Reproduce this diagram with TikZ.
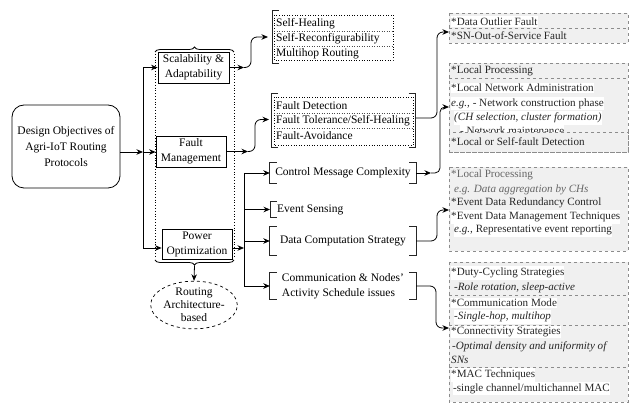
\documentclass[tikz,border=0pt]{standalone}
\usepackage{fontspec}
\setmainfont{Liberation Serif}
\usetikzlibrary{arrows.meta,decorations.pathreplacing,shapes.geometric,calc}
\definecolor{boxfill}{HTML}{F0F0F0}
\definecolor{boxline}{HTML}{8C8C8C}
\definecolor{rtext}{HTML}{262626}
\newcommand\LBrk[1]{\draw[brk] ([xshift=7pt]#1.north west) -- (#1.north west) -- (#1.south west) -- ([xshift=7pt]#1.south west);}
\newcommand\RBrk[1]{\draw[brk] ([xshift=-7pt]#1.north east) -- (#1.north east) -- (#1.south east) -- ([xshift=-7pt]#1.south east);}
\begin{document}
\begin{tikzpicture}[x=1pt,y=-1pt,
  line/.style={line width=0.8pt,black},
  conn/.style={line,-{Stealth[length=6.5pt,width=5.5pt]}},
  plainbox/.style={draw,line width=0.8pt,align=center,font=\fontsize{11.5}{15}\selectfont,inner sep=0pt},
  brk/.style={line width=0.9pt,black!85},
  dotbox/.style={draw,dotted,line width=0.6pt},
  dotsep/.style={dotted,line width=0.5pt,black!70},
  mid/.style={inner sep=0pt,font=\fontsize{11.5}{15}\selectfont},
  rbox/.style={draw=boxline,dashed,line width=0.5pt,fill=boxfill},
  rsep/.style={draw=boxline,dashed,line width=0.5pt},
  rt/.style={anchor=west,inner sep=0pt,font=\fontsize{11.1}{13}\selectfont,text=rtext},
  rtw/.style={rt,fill=white,inner ysep=1.5pt},
  lt/.style={anchor=west,inner sep=0pt,font=\fontsize{11.5}{14}\selectfont},
]
\useasboundingbox (0,0) rectangle (633,403);

% left column
\node[plainbox,rounded corners=12pt,minimum width=108,minimum height=83,font=\fontsize{11.5}{16}\selectfont] (main) at (66,146.5) {Design Objectives of\\Agri-IoT Routing\\Protocols};
\node[plainbox,minimum width=71,minimum height=31] (scal) at (193.5,67.5) {Scalability \&\\Adaptability};
\node[plainbox,minimum width=70,minimum height=31] (fm) at (191,151.5) {Fault\\Management};
\node[plainbox,minimum width=70,minimum height=30] (pow) at (197,244) {Power\\Optimization};
\node[ellipse,draw,dashed,line width=0.7pt,minimum width=78,minimum height=40,inner sep=0pt,align=center,font=\fontsize{11.5}{13}\selectfont] (rab) at (194,305) {Routing\\Architecture-\\based};

\draw[dotted,line width=0.8pt] (155,54) -- (155,258);
\draw[dotted,line width=0.8pt] (234,54) -- (234,258);
\draw[line,decorate,decoration={brace,amplitude=5pt}] (155,52) -- (234,52);
\draw[line,decorate,decoration={brace,amplitude=5pt}] (234,260) -- (155,260);
\coordinate (bottip) at (194.5,265.5);
\draw[conn] (bottip) -- (rab.north);

% bus 1
\coordinate (b1) at (143,152);
\coordinate (b1top) at (143,67.5);
\coordinate (b1bot) at (143,248);
\draw[conn] (main.east |- b1) -- (b1);
\draw[conn] (b1) -- (b1 -| fm.west);
\draw[line] (b1top) -- (b1bot);
\draw[conn] (b1top) -- (b1top -| scal.west);
\draw[conn] (b1bot) -- (b1bot -| pow.west);

% middle items
\node[mid,minimum width=146,minimum height=20] (cmc) at (343,173) {Control Message Complexity};
\LBrk{cmc}\RBrk{cmc}
\node[mid,minimum height=15,inner xsep=7pt,anchor=west] (es) at (270,209.5) {Event Sensing};
\LBrk{es}
\node[mid,minimum width=146,minimum height=28] (dcs) at (343,241) {Data Computation Strategy};
\LBrk{dcs}\RBrk{dcs}
\node[mid,minimum width=146,minimum height=26,align=left] (comm) at (343,286) {Communication \& Nodes'\\Activity Schedule issues};
\LBrk{comm}\RBrk{comm}

% bus 2
\coordinate (b2p) at (244,248);
\coordinate (b2top) at (244,173);
\coordinate (b2es) at (244,209.5);
\coordinate (b2dcs) at (244,241);
\coordinate (b2bot) at (244,286);
\draw[conn] (b2p -| pow.east) -- (b2p);
\draw[line] (b2top) -- (b2bot);
\draw[conn] (b2top) -- (cmc.west);
\draw[conn] (b2es) -- (es.west);
\draw[conn] (b2dcs) -- (dcs.west);
\draw[conn] (b2bot) -- (comm.west);

% scalability list
\draw[dotbox] (274,15) rectangle (393,60);
\draw[dotsep] (274,31.5) -- (393,31.5);
\draw[dotsep] (274,46) -- (393,46);
\node[lt] (sh) at (276,24) {Self-Healing};
\node[lt] (sr) at (276,39) {Self-Reconfigurability};
\node[lt] (mr) at (276,53.5) {Multihop Routing};
\draw[brk] (279,10) -- (272,10) -- (272,63) -- (279,63);
\coordinate (sm) at (244,67.5);
\coordinate (sltip) at (268,37);
\draw[conn] (scal.east) -- (sm);
\draw[conn,rounded corners=6pt] (sm) -- (251,67.5) -- (251,37) -- (sltip);

% fault list
\draw[dotbox] (274,97) rectangle (413,145);
\draw[dotsep] (274,113.5) -- (413,113.5);
\draw[dotsep] (274,128.5) -- (413,128.5);
\node[lt] (fd) at (276,106) {Fault Detection};
\node[lt] (ft) at (276,121) {Fault Tolerance/Self-Healing};
\node[lt] (fa) at (276,136) {Fault-Avoidance};
\draw[brk] (278,93) -- (271,93) -- (271,147) -- (278,147);
\draw[brk] (408.5,93) -- (415.5,93) -- (415.5,147) -- (408.5,147);
\coordinate (fmm) at (248,151.5);
\coordinate (fltip) at (269,119.5);
\draw[conn] (fm.east) -- (fmm);
\draw[conn,rounded corners=6pt] (fmm) -- (255,151.5) -- (255,119.5) -- (fltip);

% box A
\draw[rbox] (449,13) rectangle (628,43);
\draw[rsep] (449,28.5) -- (628,28.5);
\node[rtw] (a1) at (451,21.5) {*Data Outlier Fault};
\node[rt] (a2) at (451,36) {*SN-Out-of-Service Fault};
\coordinate (flout) at (415.5,118);
\coordinate (atip) at (449,32);
\draw[conn,rounded corners=6pt] (flout) -- (437,118) -- (437,32) -- (atip);

% box B
\draw[rbox] (449,63) rectangle (628,152);
\draw[rsep] (449,78.5) -- (628,78.5);
\node[rt] (b1t) at (451,71) {*Local Processing};
\node[rtw] (b2t) at (451,88) {*Local Network Administration};
\node[rtw] (b3t) at (451,103.5) {\textit{e.g.,} - Network construction phase};
\node[rtw] (b4t) at (454,118) {\textit{(CH selection, cluster formation)}};
\node[rtw] (b5t) at (460,130.5) {- Network maintenance};
\draw[rbox] (449,132.5) rectangle (628,152);
\node[rt] (b6t) at (451,141.5) {*Local or Self-fault Detection};
\coordinate (cm) at (431,173);
\coordinate (btip) at (449,107);
\draw[conn] (cmc.east) -- (cm);
\draw[conn,rounded corners=5pt] (cm) -- (440,173) -- (440,107) -- (btip);

% box C
\draw[rbox] (449,167) rectangle (628,251);
\node[rt,text=black!60] (c1) at (451,175) {*Local Processing};
\node[rt,text=black!60] (c2) at (454,189.5) {\textit{e.g. Data aggregation by CHs}};
\node[rt] (c3) at (451,203) {*Event Data Redundancy Control};
\node[rtw] (c4) at (451,217) {*Event Data Management Techniques};
\node[rtw] (c5) at (454,230.5) {\textit{e.g.,} Representative event reporting};
\coordinate (ctip) at (449,210);
\draw[conn,rounded corners=6pt] (dcs.east) -- (437,241) -- (437,210) -- (ctip);

% box D
\draw[rbox] (449,262) rectangle (628,402);
\draw[rsep] (449,295) -- (628,295);
\draw[rsep] (449,325) -- (628,325);
\draw[rsep] (449,367) -- (628,367);
\node[rtw] (d1) at (451,273) {*Duty-Cycling Strategies};
\node[rt] (d2) at (454,288) {\textit{-Role rotation, sleep-active}};
\node[rtw] (d3) at (451,303) {*Communication Mode};
\node[rtw] (d4) at (454,317) {\textit{-Single-hop, multihop}};
\node[rtw] (d5) at (451,332) {*Connectivity Strategies};
\node[rt] (d6) at (452,346.5) {\textit{-Optimal density and uniformity of}};
\node[rt] (d7) at (451,360) {\textit{SNs}};
\node[rtw] (d8) at (451,375) {*MAC Techniques};
\node[rtw] (d9) at (453,388.5) {-single channel/multichannel MAC};
\coordinate (dtip) at (449,328);
\draw[conn,rounded corners=6pt] (comm.east) -- (436,286) -- (436,328) -- (dtip);
\end{tikzpicture}
\end{document}
